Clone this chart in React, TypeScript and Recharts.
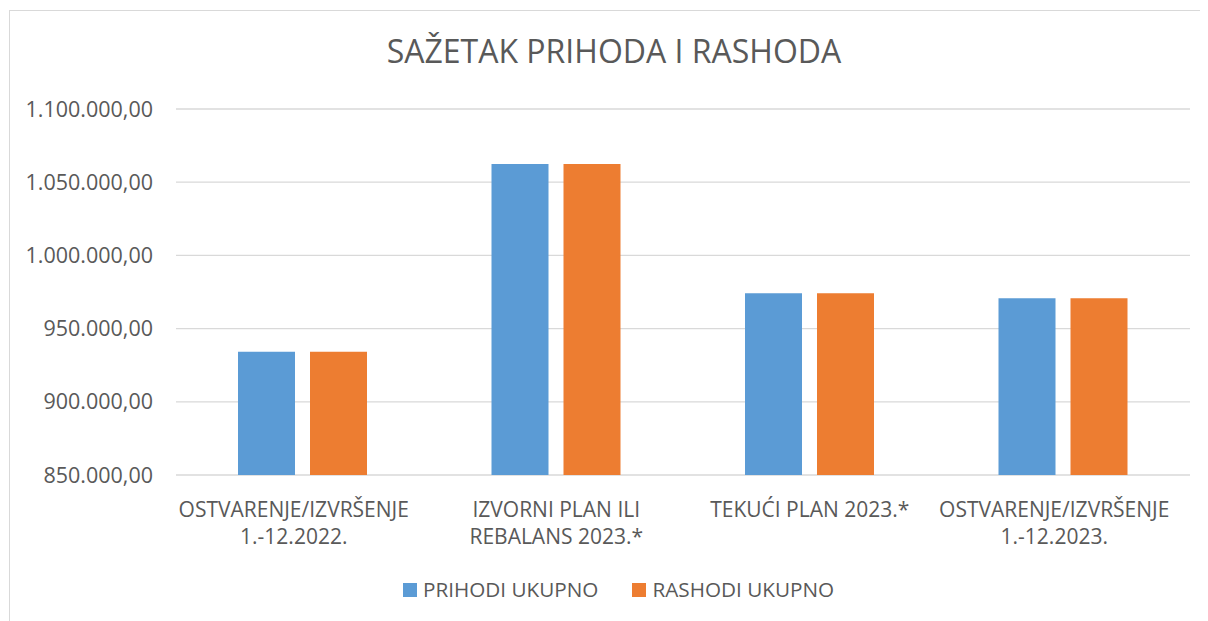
import React from "react";
import { BarChart, Bar, XAxis, YAxis, CartesianGrid, Legend } from "recharts";

const categories = [
  "OSTVARENJE/IZVRŠENJE 1.-12.2022.",
  "IZVORNI PLAN ILI REBALANS 2023.*",
  "TEKUĆI PLAN 2023.*",
  "OSTVARENJE/IZVRŠENJE 1.-12.2023.",
];
const categoryLines = [
  ["OSTVARENJE/IZVRŠENJE", "1.-12.2022."],
  ["IZVORNI PLAN ILI", "REBALANS 2023.*"],
  ["TEKUĆI PLAN 2023.*"],
  ["OSTVARENJE/IZVRŠENJE", "1.-12.2023."],
];
const prihodi = [934250, 1062500, 974150, 970700];
const rashodi = [934250, 1062500, 974150, 970700];
const yTicks = [850000, 900000, 950000, 1000000, 1050000, 1100000];
const seriesNames = ["PRIHODI UKUPNO", "RASHODI UKUPNO"];
const title = "SAŽETAK PRIHODA I RASHODA";

const BLUE = "#5B9BD5";
const ORANGE = "#ED7D31";
const TEXT = "#595959";
const GRID = "#D9D9D9";
const FONT = "'Open Sans', sans-serif";

const data = categories.map((c, i) => ({
  name: c,
  idx: i,
  prihodi: prihodi[i],
  rashodi: rashodi[i],
}));

const fmt = (n: number) => {
  const s = Math.round(n).toString();
  const parts: string[] = [];
  for (let i = s.length; i > 0; i -= 3) parts.unshift(s.slice(Math.max(0, i - 3), i));
  return parts.join(".") + ",00";
};

const XTick = (props: any) => {
  const { x, y, index } = props;
  const lines = categoryLines[index] || [];
  // long wrapped labels sit slightly left of the category centre (as in the source)
  const shift = lines.some((l) => l.length > 18) ? -9 : 0;
  const cx = x + shift;
  return (
    <text x={cx} y={y} textAnchor="middle" fill={TEXT} fontSize={21} fontFamily={FONT}>
      {lines.map((l, i) => (
        <tspan key={i} x={cx} dy={i === 0 ? 41.5 : 27}>
          {l}
        </tspan>
      ))}
    </text>
  );
};

const LegendContent = () => (
  <div style={{ height: 32, display: "flex", alignItems: "flex-start", paddingLeft: 395, fontFamily: FONT }}>
    {seriesNames.map((n, i) => (
      <div key={n} style={{ display: "flex", alignItems: "flex-start", marginRight: 34 }}>
        <div style={{ width: 14, height: 14, background: i === 0 ? BLUE : ORANGE, marginTop: 11, marginRight: 6 }} />
        <div style={{ fontSize: 20.7, lineHeight: "30px", marginTop: 2, color: TEXT, whiteSpace: "nowrap" }}>{n}</div>
      </div>
    ))}
  </div>
);

export default function App() {
  return (
    <div style={{ position: "relative", width: 1200, height: 613, fontFamily: FONT }}>
      <div
        style={{
          position: "absolute",
          left: 1,
          top: 2,
          width: 1199,
          height: 611,
          borderTop: `1px solid ${GRID}`,
          borderLeft: `1px solid ${GRID}`,
          boxSizing: "border-box",
        }}
      />
      <div
        style={{
          position: "absolute",
          left: 206,
          width: 800,
          top: 27,
          textAlign: "center",
          fontSize: 32,
          lineHeight: "32px",
          color: TEXT,
          whiteSpace: "nowrap",
        }}
      >
        {title}
      </div>
      <div style={{ position: "absolute", left: 0, top: 0 }}>
        <BarChart
          width={1200}
          height={613}
          data={data}
          margin={{ top: 101, right: 18, left: 0, bottom: 17 }}
          barSize={57}
          barGap={15}
        >
          <CartesianGrid vertical={false} stroke={GRID} strokeWidth={1.3} />
          <XAxis
            dataKey="name"
            height={97}
            axisLine={false}
            tickLine={false}
            tickSize={0}
            tickMargin={0}
            interval={0}
            tick={<XTick />}
          />
          <YAxis
            width={168}
            domain={[850000, 1100000]}
            ticks={yTicks}
            allowDataOverflow
            axisLine={false}
            tickLine={false}
            tickSize={0}
            tickMargin={23}
            tickFormatter={fmt}
            tick={{ fill: TEXT, fontSize: 21.5, fontFamily: FONT }}
          />
          <Legend verticalAlign="bottom" content={<LegendContent />} />
          <Bar dataKey="prihodi" name={seriesNames[0]} fill={BLUE} isAnimationActive={false} />
          <Bar dataKey="rashodi" name={seriesNames[1]} fill={ORANGE} isAnimationActive={false} />
        </BarChart>
      </div>
    </div>
  );
}
